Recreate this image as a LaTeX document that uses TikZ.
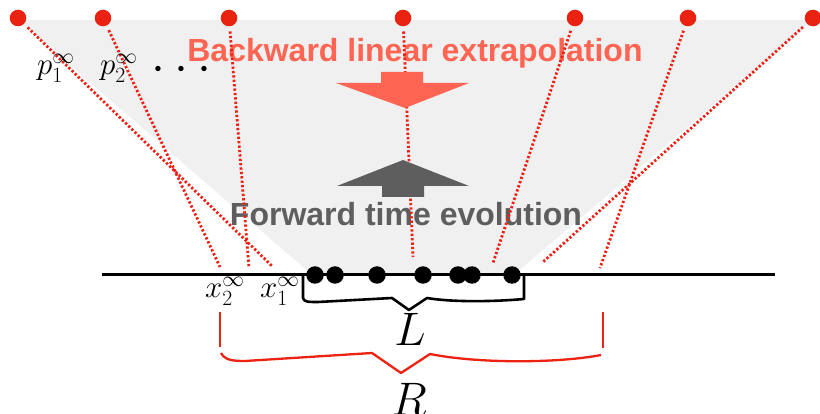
\RequirePackage{fix-cm}
\documentclass[tikz,border=0pt]{standalone}
\usepackage{fontspec}
\newfontfamily\helv{Liberation Sans}
\definecolor{dotred}{RGB}{234,34,18}
\definecolor{rayred}{RGB}{240,32,20}
\definecolor{orangered}{RGB}{255,101,82}
\definecolor{darkgray}{RGB}{94,94,94}
\definecolor{bggray}{RGB}{240,240,240}
\definecolor{bracered}{RGB}{238,34,17}
\begin{document}
\begin{tikzpicture}[x=1pt,y=-1pt,
  reddot/.style={circle,fill=dotred,inner sep=0pt,minimum size=16.6pt},
  blackdot/.style={circle,fill=black,inner sep=0pt,minimum size=17.5pt},
  ray/.style={draw=rayred,line width=2.8pt,dash pattern=on 2.3pt off 2.1pt,shorten <=5pt},
  mathlbl/.style={inner sep=0pt,anchor=base west,font=\fontsize{31}{36}\selectfont},
  biglbl/.style={inner sep=0pt,anchor=base,font=\fontsize{47}{52}\selectfont},
  bigtext/.style={inner sep=0pt,anchor=base,font=\helv\bfseries\fontsize{32}{38}\selectfont},
  bracket/.style={draw=black,line width=2.6pt,line join=round},
  rbrace/.style={draw=bracered,line width=2.3pt,line join=round}]
\useasboundingbox (0,0) rectangle (820,414);
% grey cone
\fill[bggray] (18,20) -- (813,20) -- (515,274) -- (311,274) -- cycle;
% texts
\node[bigtext,text=orangered] (bw) at (415,62) {Backward linear extrapolation};
\node[bigtext,text=darkgray] (fw) at (406,226) {Forward time evolution};
% top red dots
\node[reddot] (p1) at (18,18) {};
\node[reddot] (p2) at (103,18) {};
\node[reddot] (p3) at (229,18) {};
\node[reddot] (p4) at (403,18) {};
\node[reddot] (p5) at (575,18) {};
\node[reddot] (p6) at (688,18) {};
\node[reddot] (p7) at (813,18) {};
% ray end points
\coordinate (e1) at (273,267);
\coordinate (e2) at (220,267);
\coordinate (e3) at (249,268);
\coordinate (e4) at (413,257);
\coordinate (e5) at (493,263);
\coordinate (e6) at (600,268);
\coordinate (e7) at (543,262);
\foreach \i in {1,...,7} { \draw[ray] (p\i) -- (e\i); }
% arrows
\fill[orangered] (381,72) -- (423,72) -- (423,83) -- (469,83) -- (405,108) -- (336,83) -- (381,83) -- cycle;
\fill[darkgray] (382,197) -- (424,197) -- (424,186) -- (469,186) -- (403,160) -- (337,186) -- (382,186) -- cycle;
% baseline
\coordinate (bl) at (102,275);
\coordinate (br) at (775,275);
\draw[line width=3pt] (bl) -- (br);
% black dots
\node[blackdot] (b1) at (315,275) {};
\node[blackdot] (b2) at (335,275) {};
\node[blackdot] (b3) at (377,275) {};
\node[blackdot] (b4) at (423,275) {};
\node[blackdot] (b5) at (458,275) {};
\node[blackdot] (b6) at (472,275) {};
\node[blackdot] (b7) at (512,275) {};
% L bracket
\draw[bracket] (303,275) -- (303,298) .. controls (304,302) and (308,302) .. (318,302) -- (392,298) -- (409,310) -- (427,298) .. controls (450,302) and (490,302) .. (524,299) -- (524,275);
\node[biglbl] (L) at (410,345) {$L$};
% R bracket
\draw[rbrace] (220,312) -- (220,347);
\draw[rbrace] (603,312) -- (603,348);
\draw[rbrace] (221,353) .. controls (225,360) and (232,361) .. (245,361) -- (372,353) -- (401,373) -- (430,354) .. controls (480,364) and (560,363) .. (601,355);
\node[biglbl] (R) at (409,415) {$R$};
% labels
\node[mathlbl] (lp1) at (37,75) {$p_1^\infty$};
\node[mathlbl] (lp2) at (100,75) {$p_2^\infty$};
\node[inner sep=0pt,anchor=base,font=\fontsize{50}{56}\selectfont] (dots) at (181.5,81.5) {\smash{$\cdot$\hspace{9pt}$\cdot$\hspace{9pt}$\cdot$}};
\node[mathlbl] (lx2) at (205,298) {$x_2^\infty$};
\node[mathlbl] (lx1) at (260,298) {$x_1^\infty$};
\end{tikzpicture}
\end{document}
